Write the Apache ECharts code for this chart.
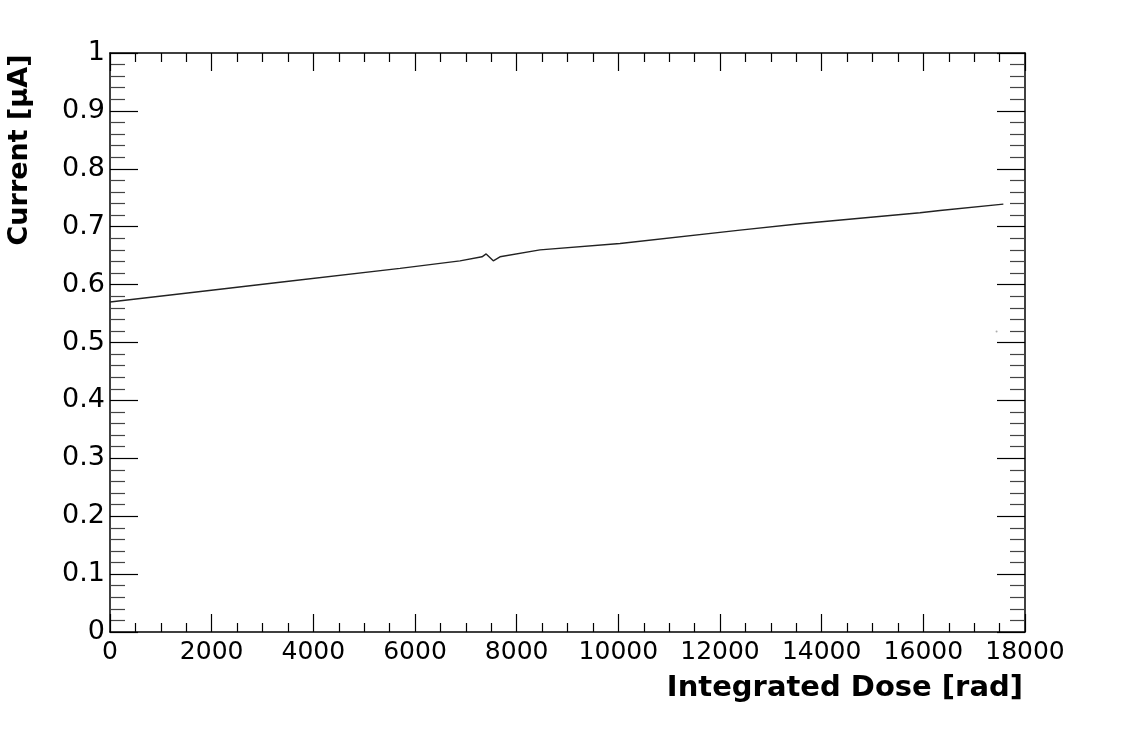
<!DOCTYPE html>
<html>
<head>
<meta charset="utf-8">
<script src="https://cdn.jsdelivr.net/npm/echarts@6/dist/echarts.min.js"></script>
<style>
  html, body { margin: 0; padding: 0; background: #fff; }
  #chart { width: 1121px; height: 732px; }
</style>
</head>
<body>
<div id="chart"></div>
<script>
// Data
const dose = [0, 2164, 3344, 5705, 6885, 7318, 7400, 7540, 7672, 8459, 10033, 12394, 13574, 15934, 16328, 17574];
const current = [0.570, 0.592, 0.604, 0.628, 0.641, 0.648, 0.653, 0.641, 0.648, 0.660, 0.671, 0.694, 0.705, 0.724, 0.728, 0.739];
const strayDose = [17441];
const strayCurrent = [0.519];
const xTicks = [0, 2000, 4000, 6000, 8000, 10000, 12000, 14000, 16000, 18000];
const yTicks = [0, 0.1, 0.2, 0.3, 0.4, 0.5, 0.6, 0.7, 0.8, 0.9, 1];
const xTitle = 'Integrated Dose [rad]';
const yTitle = 'Current [\u03bcA]';

const lineData = dose.map((d, i) => [d, current[i]]);
const strayData = strayDose.map((d, i) => [d, strayCurrent[i]]);

const chart = echarts.init(document.getElementById('chart'));
const axisLineStyle = { color: '#000', width: 1.5 };
const fontFamily = 'DejaVu Sans';

function xAxisDef(pos, labels) {
  return {
    type: 'value', position: pos,
    min: xTicks[0], max: xTicks[xTicks.length - 1], interval: xTicks[1] - xTicks[0],
    axisLine: { show: true, onZero: false, lineStyle: axisLineStyle },
    axisTick: { show: true, inside: true, length: 18, lineStyle: { color: '#000', width: 1.2 } },
    minorTick: { show: true, splitNumber: 4, length: 9, lineStyle: { color: '#000', width: 1.2 } },
    splitLine: { show: false },
    axisLabel: labels ? {
      show: true, color: '#000', fontFamily: fontFamily, fontSize: 25, margin: 8,
      formatter: v => String(v)
    } : { show: false }
  };
}
function yAxisDef(pos, labels) {
  return {
    type: 'value', position: pos,
    min: yTicks[0], max: yTicks[yTicks.length - 1], interval: yTicks[1] - yTicks[0],
    axisLine: { show: true, onZero: false, lineStyle: axisLineStyle },
    axisTick: { show: true, inside: true, length: 28, lineStyle: { color: '#000', width: 1.2 } },
    minorTick: { show: true, splitNumber: 5, length: 15, lineStyle: { color: '#444', width: 1.2 } },
    splitLine: { show: false },
    axisLabel: labels ? {
      show: true, color: '#000', fontFamily: fontFamily, fontSize: 27, margin: 5,
      padding: [7, 0, 0, 0],
      formatter: v => String(Math.round(v * 10) / 10)
    } : { show: false }
  };
}

chart.setOption({
  animation: false,
  backgroundColor: '#fff',
  grid: { left: 110, right: 96, top: 53, bottom: 100 },
  xAxis: [xAxisDef('bottom', true), xAxisDef('top', false)],
  yAxis: [yAxisDef('left', true), yAxisDef('right', false)],
  series: [
    {
      type: 'line',
      xAxisIndex: 0, yAxisIndex: 0,
      data: lineData,
      showSymbol: false,
      lineStyle: { color: '#222', width: 1.4 },
      silent: true
    },
    {
      type: 'scatter',
      xAxisIndex: 0, yAxisIndex: 0,
      data: strayData,
      symbolSize: 2,
      itemStyle: { color: '#999' },
      silent: true
    }
  ],
  graphic: [
    {
      type: 'text',
      x: 1023, y: 688,
      style: {
        text: xTitle, align: 'right', verticalAlign: 'middle',
        fontFamily: fontFamily, fontWeight: 'bold', fontSize: 29, fill: '#000'
      }
    },
    {
      type: 'text',
      x: 20, y: 150,
      rotation: Math.PI / 2,
      style: {
        text: yTitle, align: 'center', verticalAlign: 'middle',
        fontFamily: fontFamily, fontWeight: 'bold', fontSize: 27, fill: '#000'
      }
    }
  ]
});
</script>
</body>
</html>
